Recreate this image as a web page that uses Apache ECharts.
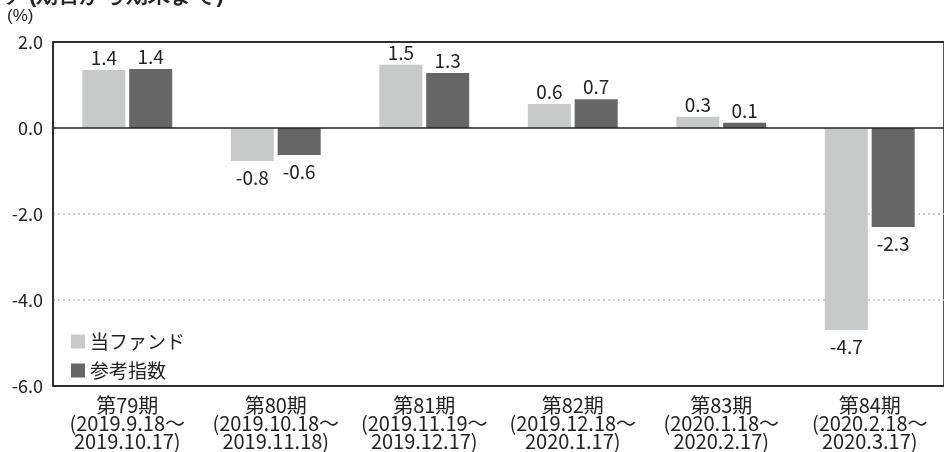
<!DOCTYPE html>
<html><head><meta charset="utf-8">
<script src="https://cdn.jsdelivr.net/npm/echarts@6/dist/echarts.min.js"></script>
<style>html,body{margin:0;padding:0;background:#fff;}#c{width:944px;height:452px;}</style>
</head><body><div id="c"></div>
<script>
const categories = ['第79期\n(2019.9.18～\n2019.10.17)','第80期\n(2019.10.18～\n2019.11.18)','第81期\n(2019.11.19～\n2019.12.17)','第82期\n(2019.12.18～\n2020.1.17)','第83期\n(2020.1.18～\n2020.2.17)','第84期\n(2020.2.18～\n2020.3.17)'];
const fundValues = [1.35, -0.77, 1.47, 0.56, 0.26, -4.70];
const indexValues = [1.37, -0.63, 1.28, 0.67, 0.12, -2.30];
const seriesNames = ['当ファンド','参考指数'];
const yTicks = {min: -6, max: 2, interval: 2};

const FONT = '"Noto Sans CJK JP", "Noto Sans", sans-serif';
const chart = echarts.init(document.getElementById('c'));
function mk(vals){
  return vals.map(v => ({value: v, label: {position: v >= 0 ? 'top' : 'bottom', distance: v >= 0 ? 3 : 7}}));
}
const lbl = {show: true, fontSize: 19, color: '#222', fontFamily: FONT, formatter: p => p.value.toFixed(1)};
chart.setOption({
  animation: false,
  textStyle: {fontFamily: FONT},
  graphic: [
    {type: 'text', left: 0, top: -15, style: {text: 'ッ (期首から期末まで)', fontSize: 22, fontWeight: 'bold', fill: '#222', font: 'bold 22px ' + FONT}},
    {type: 'text', left: 7, top: 8, style: {text: '(%)', fontSize: 17, fill: '#222', font: '17px ' + FONT}}
  ],
  grid: {left: 53, top: 42, width: 897, height: 344, show: true, borderColor: '#222', borderWidth: 1.5, backgroundColor: 'transparent'},
  legend: {
    orient: 'vertical', left: 66, top: 327, itemWidth: 14, itemHeight: 14, itemGap: 10, icon: 'rect',
    textStyle: {fontSize: 19, lineHeight: 18, color: '#222', fontFamily: FONT},
    data: seriesNames
  },
  xAxis: {
    type: 'category', data: categories,
    axisLine: {show: false, onZero: false}, axisTick: {show: false},
    axisLabel: {fontSize: 20, color: '#222', lineHeight: 18, margin: 10, interval: 0, fontFamily: FONT}
  },
  yAxis: {
    type: 'value', min: yTicks.min, max: yTicks.max, interval: yTicks.interval,
    axisLine: {show: true, lineStyle: {color: '#222', width: 1.5}}, axisTick: {show: false},
    axisLabel: {fontSize: 18, color: '#222', margin: 10, formatter: v => v.toFixed(1), fontFamily: FONT},
    splitLine: {show: true, lineStyle: {color: ['transparent', '#bbb', '#bbb', 'transparent', 'transparent'], type: [2, 3], width: 1.5}}
  },
  series: [
    {name: seriesNames[0], type: 'bar', data: mk(fundValues), barWidth: 43, barGap: '9%', itemStyle: {color: '#c8c9c9'}, label: lbl,
     markLine: {silent: true, symbol: 'none', label: {show: false}, lineStyle: {color: '#222', type: 'solid', width: 1.5},
       data: [{yAxis: 0}, {yAxis: yTicks.max}, {yAxis: yTicks.min}]}},
    {name: seriesNames[1], type: 'bar', data: mk(indexValues), barWidth: 43, itemStyle: {color: '#666666'}, label: lbl}
  ]
});
</script></body></html>
